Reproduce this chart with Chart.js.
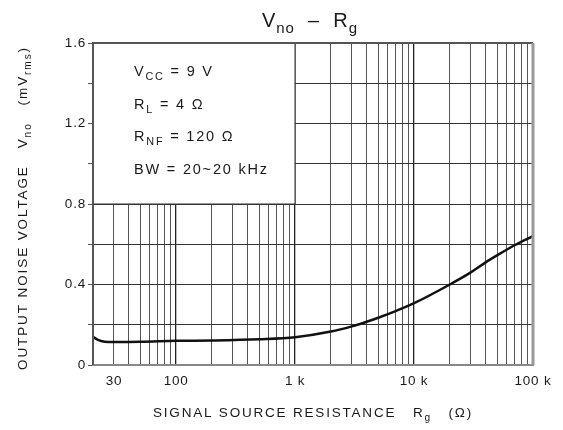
<!DOCTYPE html>
<html><head><meta charset="utf-8">
<script src="https://cdn.jsdelivr.net/npm/chart.js@4/dist/chart.umd.min.js"></script>
<style>html,body{margin:0;padding:0;background:#fff}#wrap{width:563px;height:430px}</style>
</head><body><div id="wrap"><canvas id="c" width="563" height="430"></canvas></div>
<script>
const resistance = [20, 22, 25, 30, 50, 100, 200, 500, 1000, 2000, 3000, 4000, 5000, 7000, 10000, 20000, 30000, 40000, 50000, 70000, 100000];
const noiseVoltage = [0.14, 0.125, 0.116, 0.114, 0.115, 0.12, 0.122, 0.128, 0.138, 0.166, 0.192, 0.215, 0.235, 0.268, 0.307, 0.40, 0.46, 0.51, 0.545, 0.595, 0.64];
const xGridValues = [20,30,40,50,60,70,80,90,100,200,300,400,500,600,700,800,900,1000,2000,3000,4000,5000,6000,7000,8000,9000,10000,20000,30000,40000,50000,60000,70000,80000,90000,100000];
const xTickLabels = {30:'30', 100:'100', 1000:'1 k', 10000:'10 k', 100000:'100 k'};
const yTickLabels = {0:'0', 0.4:'0.4', 0.8:'0.8', 1.2:'1.2', 1.6:'1.6'};
const conditions = [
  [['V',0],['CC',1],[' = 9 V',0]],
  [['R',0],['L',1],[' = 4 Ω',0]],
  [['R',0],['NF',1],[' = 120 Ω',0]],
  [['BW = 20~20 kHz',0]]
];
const FONT = "'Liberation Sans Narrow','Liberation Sans',Arial,sans-serif";

function drawParts(ctx, parts, x, y, size, align, spacing) {
  ctx.letterSpacing = (spacing || 0) + 'px';
  let w = 0;
  const widths = parts.map(p => { ctx.font = (p[1] ? size*0.75 : size) + 'px ' + FONT; const m = ctx.measureText(p[0]).width; w += m; return m; });
  let cx = align === 'center' ? x - w/2 : x;
  ctx.textBaseline = 'alphabetic'; ctx.textAlign = 'left';
  parts.forEach((p, i) => {
    ctx.font = (p[1] ? size*0.75 : size) + 'px ' + FONT;
    ctx.fillText(p[0], cx, y + (p[1] ? size*0.3 : 0));
    cx += widths[i];
  });
  ctx.letterSpacing = '0px';
}

const overlay = {
  id: 'overlay',
  beforeDraw(chart) { chart.ctx.letterSpacing = '0.8px'; },
  afterDraw(chart) {
    const ctx = chart.ctx, xs = chart.scales.x, ys = chart.scales.y, ca = chart.chartArea;
    ctx.save();
    ctx.strokeStyle = '#555'; ctx.lineWidth = 2;
    ctx.beginPath(); ctx.moveTo(ca.left, ca.bottom); ctx.lineTo(ca.left, ca.top); ctx.lineTo(ca.right, ca.top); ctx.stroke();
    ctx.strokeStyle = '#999'; ctx.lineWidth = 3;
    ctx.beginPath(); ctx.moveTo(ca.right, ca.top); ctx.lineTo(ca.right, ca.bottom); ctx.stroke();
    const bx0 = ca.left + 1, bx1 = xs.getPixelForValue(1000), by0 = ca.top + 1, by1 = ys.getPixelForValue(0.8);
    ctx.fillStyle = '#fff'; ctx.fillRect(bx0, by0, bx1 - bx0, by1 - by0);
    ctx.strokeStyle = '#333'; ctx.lineWidth = 1.2;
    ctx.beginPath(); ctx.moveTo(bx1, by0); ctx.lineTo(bx1, by1); ctx.lineTo(bx0, by1); ctx.stroke();
    ctx.fillStyle = '#1a1a1a';
    conditions.forEach((c, i) => drawParts(ctx, c, bx0 + 40, by0 + 32 + i*32.5, 14.5, 'left', 1.8));
    drawParts(ctx, [['V',0],['no',1],['  –  R',0],['g',1]], (ca.left+ca.right)/2 - 3, 27, 20, 'center', 1);
    drawParts(ctx, [['SIGNAL SOURCE RESISTANCE   R',0],['g',1],['   (Ω)',0]], (ca.left+ca.right)/2, 417, 13.5, 'center', 1.8);
    ctx.translate(27, (ca.top+ca.bottom)/2 + 4);
    ctx.rotate(-Math.PI/2);
    drawParts(ctx, [['OUTPUT NOISE VOLTAGE   V',0],['no',1],['   (mV',0],['rms',1],[')',0]], 0, 0, 13.5, 'center', 1.9);
    ctx.restore();
  }
};

new Chart(document.getElementById('c'), {
  type: 'line',
  data: { datasets: [{
    data: resistance.map((r, i) => ({x: r, y: noiseVoltage[i]})),
    borderColor: '#111', borderWidth: 2.5, pointRadius: 0, cubicInterpolationMode: 'monotone', fill: false
  }]},
  options: {
    responsive: false, animation: false, devicePixelRatio: 1,
    layout: { padding: { left: 0, right: 30, top: 43, bottom: 0 } },
    plugins: { legend: { display: false }, tooltip: { enabled: false } },
    scales: {
      x: {
        type: 'logarithmic', min: 20, max: 100000,
        afterBuildTicks: s => { s.ticks = xGridValues.map(v => ({value: v})); },
        afterFit: s => { s.height = 65; },
        border: { display: true, color: '#888', width: 2 },
        grid: {
          color: c => (c.tick && [100,1000,10000].includes(c.tick.value)) ? '#222' : '#555',
          lineWidth: c => (c.tick && [100,1000,10000].includes(c.tick.value)) ? 1.3 : 1,
          drawTicks: false
        },
        ticks: {
          autoSkip: false, maxRotation: 0, padding: 8, color: '#1a1a1a',
          font: { family: FONT, size: 13.5 },
          callback: function(v) { return xTickLabels[v] || ''; }
        }
      },
      y: {
        min: 0, max: 1.6,
        afterBuildTicks: s => { s.ticks = [0,0.2,0.4,0.6,0.8,1.0,1.2,1.4,1.6].map(v => ({value: v})); },
        afterFit: s => { s.width = 93; },
        border: { display: true, color: '#888', width: 2 },
        grid: { color: '#333', lineWidth: 1, drawTicks: true, tickLength: 5, tickColor: '#555' },
        ticks: {
          autoSkip: false, padding: 2, color: '#1a1a1a',
          font: { family: FONT, size: 13.5 },
          callback: function(v) { const k = Math.round(v*10)/10; return yTickLabels[k] !== undefined ? yTickLabels[k] : ''; }
        }
      }
    }
  },
  plugins: [overlay]
});
</script></body></html>
